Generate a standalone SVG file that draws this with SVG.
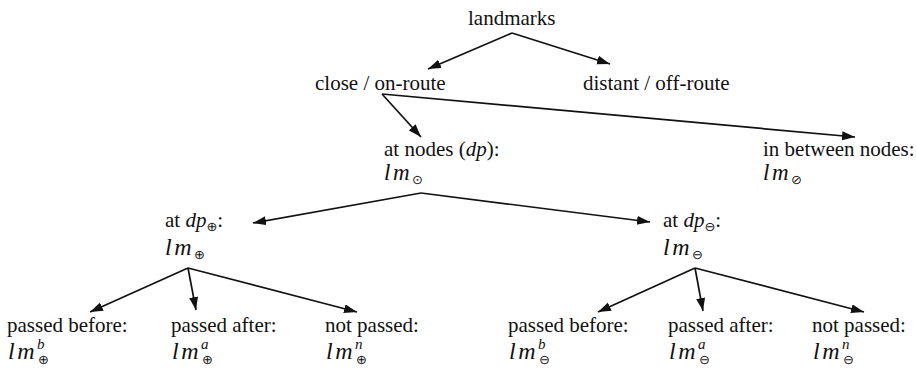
<svg xmlns="http://www.w3.org/2000/svg" width="916" height="372" viewBox="0 0 916 372">
<defs>
  <marker id="arr" markerUnits="userSpaceOnUse" markerWidth="14" markerHeight="10" refX="13" refY="4.5" orient="auto">
    <path d="M0,0 L13,4.5 L0,9 z" fill="#111"/>
  </marker>
</defs>
<g id="connectors" stroke="#111" stroke-width="1.7" fill="none" marker-end="url(#arr)">
  <line x1="512" y1="33" x2="428" y2="69"/>
  <line x1="512" y1="33" x2="610" y2="64"/>
  <line x1="382" y1="94" x2="421" y2="137"/>
  <line x1="382" y1="94" x2="855" y2="137"/>
  <line x1="421" y1="193" x2="253" y2="223"/>
  <line x1="421" y1="193" x2="650" y2="222"/>
  <line x1="188" y1="268" x2="90" y2="312"/>
  <line x1="188" y1="268" x2="196" y2="310"/>
  <line x1="188" y1="268" x2="357" y2="312"/>
  <line x1="695" y1="268" x2="598" y2="312"/>
  <line x1="695" y1="268" x2="703" y2="311"/>
  <line x1="695" y1="268" x2="864" y2="312"/>
</g>
<g fill="#111">
<g id="landmarks"><text font-family="Liberation Serif" font-size="21" x="468" y="25">landmarks</text></g>
<g id="close"><text font-family="Liberation Serif" font-size="21" x="315" y="90">close / on-route</text></g>
<g id="distant"><text font-family="Liberation Serif" font-size="21" x="583" y="90">distant / off-route</text></g>
<g id="atnodes">
  <text font-family="Liberation Serif" font-size="21" x="384" y="156">at nodes (<tspan font-style="italic">dp</tspan>):</text>
  <text font-family="Liberation Serif" x="384" y="180" font-style="italic" font-size="23" letter-spacing="2.5">lm<tspan font-family="DejaVu Sans" font-style="normal" font-size="13" letter-spacing="0" dy="4">&#x2299;</tspan></text>
</g>
<g id="between">
  <text font-family="Liberation Serif" font-size="21" x="763" y="156">in between nodes:</text>
  <text font-family="Liberation Serif" x="763" y="180" font-style="italic" font-size="23" letter-spacing="2.5">lm<tspan font-family="DejaVu Sans" font-style="normal" font-size="13" letter-spacing="0" dy="4">&#x2298;</tspan></text>
</g>
<g id="dpplus">
  <text font-family="Liberation Serif" font-size="21" x="165" y="227">at <tspan font-style="italic">dp</tspan><tspan font-family="DejaVu Sans" font-size="13" dy="4">&#x2295;</tspan><tspan dy="-4">:</tspan></text>
  <text font-family="Liberation Serif" x="165" y="255" font-style="italic" font-size="24" letter-spacing="2.5">lm<tspan font-family="DejaVu Sans" font-style="normal" font-size="13" letter-spacing="0" dy="4">&#x2295;</tspan></text>
</g>
<g id="dpminus">
  <text font-family="Liberation Serif" font-size="21" x="663" y="227">at <tspan font-style="italic">dp</tspan><tspan font-family="DejaVu Sans" font-size="13" dy="4">&#x2296;</tspan><tspan dy="-4">:</tspan></text>
  <text font-family="Liberation Serif" x="663" y="255" font-style="italic" font-size="24" letter-spacing="2.5">lm<tspan font-family="DejaVu Sans" font-style="normal" font-size="13" letter-spacing="0" dy="4">&#x2296;</tspan></text>
</g>
<g id="plus-before">
  <text font-family="Liberation Serif" font-size="21" x="7" y="332">passed before:</text>
  <text font-family="Liberation Serif" x="8" y="359" font-style="italic" font-size="24" letter-spacing="2.5">lm<tspan font-size="15" letter-spacing="0" dy="-10">b</tspan><tspan font-family="DejaVu Sans" font-style="normal" font-size="13" letter-spacing="0" x="38" dy="15">&#x2295;</tspan></text>
</g>
<g id="plus-after">
  <text font-family="Liberation Serif" font-size="21" x="171" y="332">passed after:</text>
  <text font-family="Liberation Serif" x="172" y="359" font-style="italic" font-size="24" letter-spacing="2.5">lm<tspan font-size="15" letter-spacing="0" dy="-10">a</tspan><tspan font-family="DejaVu Sans" font-style="normal" font-size="13" letter-spacing="0" x="202" dy="15">&#x2295;</tspan></text>
</g>
<g id="plus-not">
  <text font-family="Liberation Serif" font-size="21" x="325" y="332">not passed:</text>
  <text font-family="Liberation Serif" x="326" y="359" font-style="italic" font-size="24" letter-spacing="2.5">lm<tspan font-size="15" letter-spacing="0" dy="-10">n</tspan><tspan font-family="DejaVu Sans" font-style="normal" font-size="13" letter-spacing="0" x="356" dy="15">&#x2295;</tspan></text>
</g>
<g id="minus-before">
  <text font-family="Liberation Serif" font-size="21" x="508" y="332">passed before:</text>
  <text font-family="Liberation Serif" x="509" y="359" font-style="italic" font-size="24" letter-spacing="2.5">lm<tspan font-size="15" letter-spacing="0" dy="-10">b</tspan><tspan font-family="DejaVu Sans" font-style="normal" font-size="13" letter-spacing="0" x="539" dy="15">&#x2296;</tspan></text>
</g>
<g id="minus-after">
  <text font-family="Liberation Serif" font-size="21" x="668" y="332">passed after:</text>
  <text font-family="Liberation Serif" x="669" y="359" font-style="italic" font-size="24" letter-spacing="2.5">lm<tspan font-size="15" letter-spacing="0" dy="-10">a</tspan><tspan font-family="DejaVu Sans" font-style="normal" font-size="13" letter-spacing="0" x="699" dy="15">&#x2296;</tspan></text>
</g>
<g id="minus-not">
  <text font-family="Liberation Serif" font-size="21" x="812" y="332">not passed:</text>
  <text font-family="Liberation Serif" x="813" y="359" font-style="italic" font-size="24" letter-spacing="2.5">lm<tspan font-size="15" letter-spacing="0" dy="-10">n</tspan><tspan font-family="DejaVu Sans" font-style="normal" font-size="13" letter-spacing="0" x="843" dy="15">&#x2296;</tspan></text>
</g>
</g>
</svg>
